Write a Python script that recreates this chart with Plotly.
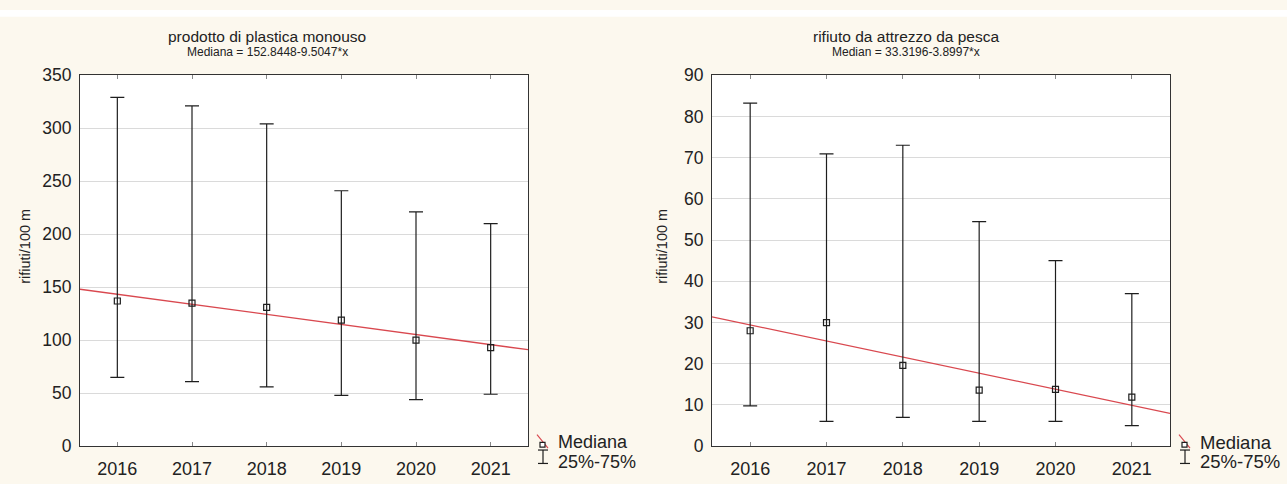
import plotly.graph_objects as go

W, H = 1287, 484

years = [2016, 2017, 2018, 2019, 2020, 2021]

# Panel 1: prodotto di plastica monouso
p1_median = [137, 135, 131, 119, 100, 93]
p1_q1 = [65, 61, 56, 48, 44, 49]
p1_q3 = [329, 321, 304, 241, 221, 210]
p1_a, p1_b = 152.8448, -9.5047
p1_title = "prodotto di plastica monouso"
p1_sub = "Mediana = 152.8448-9.5047*x"
p1_yticks = [0, 50, 100, 150, 200, 250, 300, 350]

# Panel 2: rifiuto da attrezzo da pesca
p2_median = [28, 30, 19.6, 13.6, 13.8, 11.9]
p2_q1 = [9.8, 6.0, 7.0, 6.0, 6.0, 5.0]
p2_q3 = [83.2, 70.9, 73, 54.5, 45, 37]
p2_a, p2_b = 33.3196, -3.8997
p2_title = "rifiuto da attrezzo da pesca"
p2_sub = "Median = 33.3196-3.8997*x"
p2_yticks = [0, 10, 20, 30, 40, 50, 60, 70, 80, 90]

ylabel = "rifiuti/100 m"
leg_med = "Mediana"
leg_iqr = "25%-75%"

BG = "#fcf8ee"
FONT = "Liberation Sans, Arial, sans-serif"
RED = "#d9484f"
DARK = "#1e1e1e"


def px(x):
    return x / W


def py(y):
    return 1 - y / H


panels = [
    dict(med=p1_median, q1=p1_q1, q3=p1_q3, a=p1_a, b=p1_b, title=p1_title, sub=p1_sub,
         yticks=p1_yticks, x0=80, x1=528, g0=6, ylab_x=25, lsize=18),
    dict(med=p2_median, q1=p2_q1, q3=p2_q3, a=p2_a, b=p2_b, title=p2_title, sub=p2_sub,
         yticks=p2_yticks, x0=712, x1=1170, g0=642, ylab_x=662, lsize=18.5),
]
TOP, BOT = 68, 455

fig = go.Figure()
shapes = []
annotations = []

# white strip at top
shapes.append(dict(type="rect", xref="paper", yref="paper", x0=0, x1=1, y0=py(7), y1=1,
                   fillcolor="white", line=dict(width=0), layer="below"))

xr = [years[0] - 0.5, years[-1] + 0.5]

for i, p in enumerate(panels):
    n = "" if i == 0 else str(i + 1)
    xa, ya = "x" + n, "y" + n
    # regression line from formula (x index: 2016 -> 1)
    lx = xr
    ly = [p["a"] + p["b"] * (v - (years[0] - 1)) for v in lx]
    fig.add_trace(go.Scatter(x=lx, y=ly, mode="lines", line=dict(color=RED, width=1.3),
                             xaxis=xa, yaxis=ya, showlegend=False, hoverinfo="skip"))
    plus = [q3 - m for q3, m in zip(p["q3"], p["med"])]
    minus = [m - q1 for m, q1 in zip(p["med"], p["q1"])]
    fig.add_trace(go.Scatter(
        x=years, y=p["med"], mode="markers",
        marker=dict(symbol="square-open", size=6, color=DARK, line=dict(width=1.2, color=DARK)),
        error_y=dict(type="data", symmetric=False, array=plus, arrayminus=minus,
                     color=DARK, thickness=1.2, width=7),
        xaxis=xa, yaxis=ya, showlegend=False))

    yt = p["yticks"]
    fig.update_layout(**{
        "xaxis" + n: dict(domain=[px(p["x0"]), px(p["x1"])], range=xr, tickvals=years,
                          ticktext=[str(y) for y in years], showgrid=False, zeroline=False,
                          showline=True, linecolor="#333", linewidth=1, mirror="allticks",
                          ticks="inside", ticklen=4, tickcolor="#888",
                          ticklabelstandoff=6,
                          tickfont=dict(family=FONT, size=18, color="#222"),
                          anchor=ya, fixedrange=True),
        "yaxis" + n: dict(domain=[py(BOT), py(TOP)], range=[yt[0], yt[-1]], tickvals=yt,
                          showgrid=True, gridcolor="#dadada", gridwidth=1, zeroline=False,
                          showline=True, linecolor="#333", linewidth=1, mirror=True,
                          ticks="", ticklabelstandoff=4,
                          tickfont=dict(family=FONT, size=17.5, color="#222"),
                          anchor=xa, fixedrange=True),
    })

    # titles are centred over the graph's left edge .. plot right edge
    cx = (p["g0"] + p["x1"]) / 2
    annotations.append(dict(text=p["title"], x=px(cx), y=py(28), xref="paper", yref="paper",
                            showarrow=False, xanchor="center", yanchor="middle",
                            font=dict(family=FONT, size=15.5, color="#222")))
    annotations.append(dict(text=p["sub"], x=px(cx), y=py(44), xref="paper", yref="paper",
                            showarrow=False, xanchor="center", yanchor="middle",
                            font=dict(family=FONT, size=12, color="#222")))
    annotations.append(dict(text=ylabel, x=px(p["ylab_x"]), y=py(247), xref="paper",
                            yref="paper", showarrow=False, textangle=-90,
                            xanchor="center", yanchor="middle",
                            font=dict(family=FONT, size=14.5, color="#222")))

    # manual legend
    lx0 = p["x1"] + 9
    shapes.append(dict(type="line", xref="paper", yref="paper", x0=px(lx0), y0=py(443),
                       x1=px(lx0 + 11), y1=py(457), line=dict(color=RED, width=1.2)))
    shapes.append(dict(type="rect", xref="paper", yref="paper", x0=px(lx0 + 3), x1=px(lx0 + 8),
                       y0=py(456), y1=py(451), fillcolor="white",
                       line=dict(color=DARK, width=1.2)))
    bx = lx0 + 6
    shapes.append(dict(type="line", xref="paper", yref="paper", x0=px(bx), x1=px(bx),
                       y0=py(459), y1=py(473), line=dict(color=DARK, width=1.2)))
    for yy in (459, 473):
        shapes.append(dict(type="line", xref="paper", yref="paper", x0=px(bx - 5),
                           x1=px(bx + 5), y0=py(yy), y1=py(yy),
                           line=dict(color=DARK, width=1.2)))
    annotations.append(dict(text=leg_med, x=px(lx0 + 19), y=py(451), xref="paper",
                            yref="paper", showarrow=False, xanchor="left", yanchor="middle",
                            font=dict(family=FONT, size=p["lsize"], color="#222")))
    annotations.append(dict(text=leg_iqr, x=px(lx0 + 19), y=py(471), xref="paper",
                            yref="paper", showarrow=False, xanchor="left", yanchor="middle",
                            font=dict(family=FONT, size=p["lsize"], color="#222")))

fig.update_layout(width=W, height=H, margin=dict(l=0, r=0, t=0, b=0),
                  paper_bgcolor=BG, plot_bgcolor="white", showlegend=False,
                  shapes=shapes, annotations=annotations)

fig.write_html("out.html", config={"displayModeBar": False})
